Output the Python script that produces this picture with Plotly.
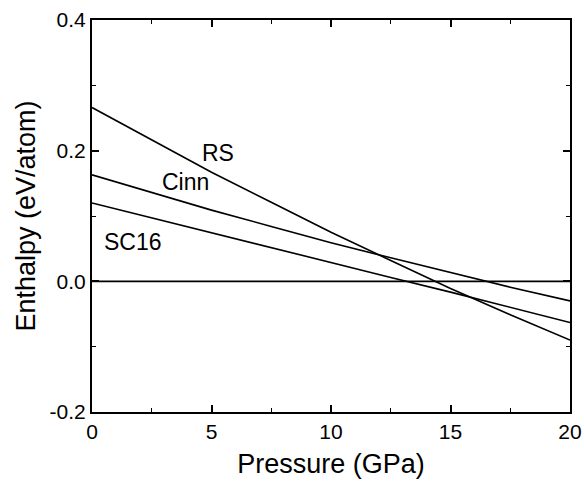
import plotly.graph_objects as go

pressure = [0, 2.5, 5, 7.5, 10, 12.5, 15, 17.5, 20]
rs = [0.266, 0.216, 0.167, 0.121, 0.075, 0.032, -0.011, -0.051, -0.090]
cinn = [0.163, 0.136, 0.109, 0.084, 0.059, 0.036, 0.013, -0.009, -0.030]
sc16 = [0.120, 0.097, 0.0745, 0.052, 0.029, 0.006, -0.0165, -0.040, -0.063]
zero_x = [0, 20]
zero_y = [0, 0]

labels = ["RS", "Cinn", "SC16"]
label_x = [5.27, 3.93, 1.72]
label_y = [0.196, 0.152, 0.060]

FONT = "Arial, Liberation Sans, sans-serif"
fig = go.Figure()
for ys in (rs, cinn, sc16):
    fig.add_trace(go.Scatter(x=pressure, y=ys, mode="lines",
                             line=dict(color="black", width=1.6), showlegend=False))
fig.add_trace(go.Scatter(x=zero_x, y=zero_y, mode="lines",
                         line=dict(color="black", width=1.6), showlegend=False))

for t, x, y in zip(labels, label_x, label_y):
    fig.add_annotation(x=x, y=y, text=t, showarrow=False,
                       font=dict(family=FONT, size=23, color="black"))

axis_common = dict(showline=True, linecolor="black", linewidth=2, mirror="allticks",
                   ticks="inside", ticklen=7, tickwidth=1.5, tickcolor="black",
                   showgrid=False, zeroline=False, automargin=False,
                   tickfont=dict(family=FONT, size=21, color="black"))

fig.update_xaxes(range=[0, 20], tickvals=[0, 5, 10, 15, 20],
                 minor=dict(ticks="inside", ticklen=4, tickwidth=1.2, dtick=2.5, tick0=0, tickcolor="black"),
                 title=dict(text="Pressure (GPa)", font=dict(family=FONT, size=27, color="black"), standoff=12),
                 **axis_common)
fig.update_yaxes(range=[-0.2, 0.4], tickvals=[-0.2, 0.0, 0.2, 0.4], ticktext=["-0.2", "0.0", "0.2", "0.4"],
                 minor=dict(ticks="inside", ticklen=4, tickwidth=1.2, dtick=0.1, tick0=0, tickcolor="black"),
                 title=dict(text="Enthalpy (eV/atom)", font=dict(family=FONT, size=27, color="black"), standoff=6),
                 **axis_common)

fig.update_layout(width=584, height=487, margin=dict(l=92, r=14, t=20, b=75),
                  plot_bgcolor="white", paper_bgcolor="white", showlegend=False)

fig.write_html("out.html")
